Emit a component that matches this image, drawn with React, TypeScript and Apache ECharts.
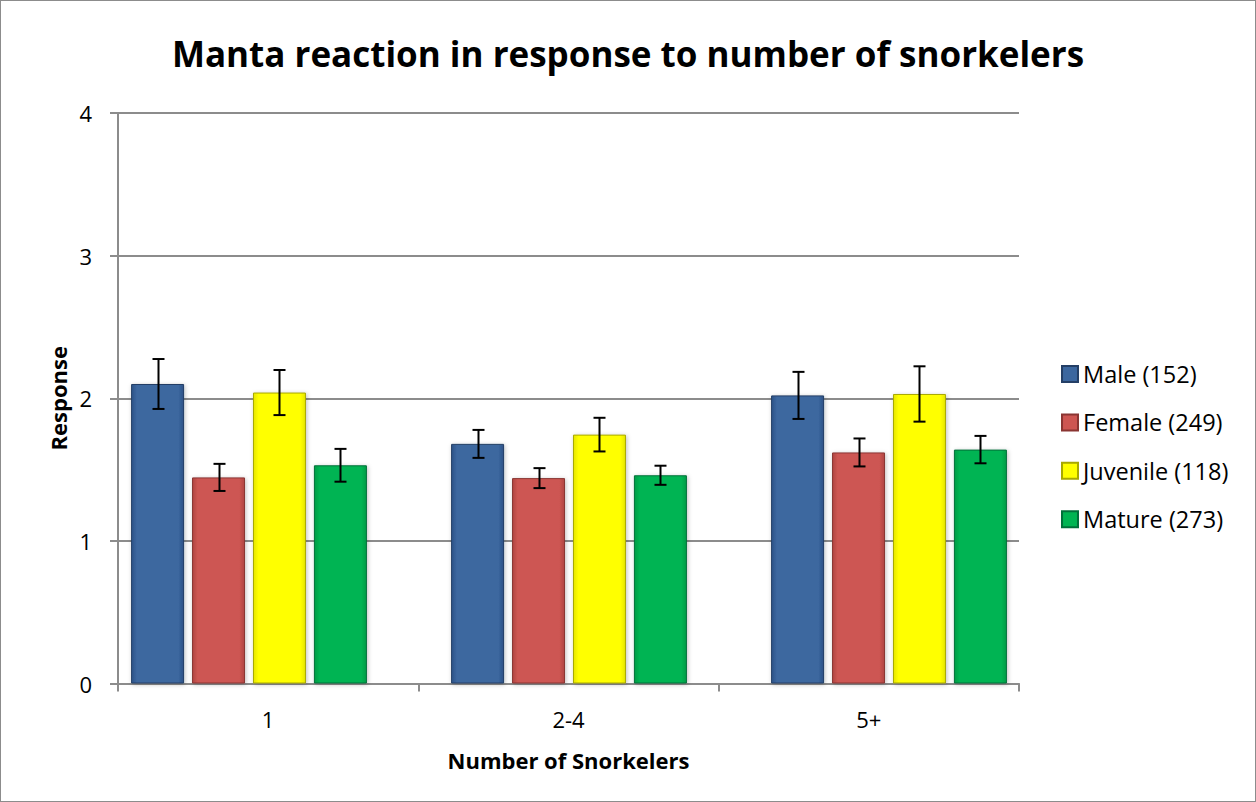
import React, { useEffect, useRef } from "react";
import * as echarts from "echarts";

const categories = ["1", "2-4", "5+"];
const seriesNames = ["Male (152)", "Female (249)", "Juvenile (118)", "Mature (273)"];
const maleValues = [2.1, 1.68, 2.02];
const femaleValues = [1.445, 1.44, 1.62];
const juvenileValues = [2.04, 1.745, 2.03];
const matureValues = [1.53, 1.46, 1.64];
const maleErrors = [0.175, 0.098, 0.165];
const femaleErrors = [0.095, 0.07, 0.098];
const juvenileErrors = [0.158, 0.118, 0.194];
const matureErrors = [0.115, 0.067, 0.096];
const yTicks = [0, 1, 2, 3, 4];

const FONT = "'Open Sans', sans-serif";
const BAR_W = 0.1656;
const BAR_GAP = 0.15;

const palette = [
  { base: "#3c679f", dark: "#2d5287", border: "#243f66" },
  { base: "#cd5652", dark: "#b04642", border: "#8a3532" },
  { base: "#ffff00", dark: "#e6e600", border: "#a8a800" },
  { base: "#00b452", dark: "#009c46", border: "#00703a" },
];

function grad(p: (typeof palette)[number]) {
  return {
    type: "linear",
    x: 0,
    y: 0,
    x2: 1,
    y2: 0,
    colorStops: [
      { offset: 0, color: p.dark },
      { offset: 0.1, color: p.base },
      { offset: 0.9, color: p.base },
      { offset: 1, color: p.dark },
    ],
  };
}

const axisGrey = "#8c8c8c";

export default function App() {
  const ref = useRef<HTMLDivElement>(null);
  useEffect(() => {
    if (!ref.current) return;
    const chart = echarts.init(ref.current, undefined, { renderer: "svg" });
    const values = [maleValues, femaleValues, juvenileValues, matureValues];
    const errors = [maleErrors, femaleErrors, juvenileErrors, matureErrors];
    const errData: number[][] = [];
    values.forEach((vals, s) => {
      vals.forEach((v, c) => {
        errData.push([c, s, v - errors[s][c], v + errors[s][c]]);
      });
    });
    const barSeries = seriesNames.map((name, i) => ({
      name,
      type: "bar",
      xAxisIndex: 1,
      yAxisIndex: 1,
      data: values[i],
      barWidth: BAR_W * 100 + "%",
      barGap: BAR_GAP * 100 + "%",
      itemStyle: {
        color: grad(palette[i]),
        borderColor: palette[i].border,
        borderWidth: 1,
        shadowColor: "rgba(0,0,0,0.25)",
        shadowBlur: 4,
        shadowOffsetX: 1,
        shadowOffsetY: 1,
      },
    }));
    chart.setOption({
      animation: false,
      backgroundColor: "#ffffff",
      title: {
        text: "Manta reaction in response to number of snorkelers",
        left: "center",
        top: 36,
        padding: 0,
        textStyle: { fontFamily: FONT, fontWeight: "bold", fontSize: 35, color: "#000" },
      },
      legend: {
        orient: "vertical",
        left: 1061,
        top: 362,
        padding: 0,
        itemWidth: 16,
        itemHeight: 16,
        itemGap: 24.4,
        itemTextGap: 6,
        icon: "rect",
        data: seriesNames,
        textStyle: { fontFamily: FONT, fontSize: 23.5, color: "#000", lineHeight: 24 },
      },
      grid: [
        { left: 118, right: 237, top: 113, bottom: 118.5, containLabel: false },
        { left: 89, right: 207, top: 113, bottom: 118.5, containLabel: false },
      ],
      xAxis: [
        {
          type: "category",
          gridIndex: 0,
          data: categories,
          name: "Number of Snorkelers",
          nameLocation: "middle",
          nameGap: 65,
          nameTextStyle: { fontFamily: FONT, fontWeight: "bold", fontSize: 22, color: "#000" },
          axisLine: { lineStyle: { color: axisGrey, width: 2 } },
          axisTick: { show: true, length: 8, lineStyle: { color: axisGrey, width: 2 } },
          axisLabel: { margin: 24, fontFamily: FONT, fontSize: 22, color: "#000" },
        },
        {
          type: "category",
          gridIndex: 1,
          data: categories,
          show: false,
        },
      ],
      yAxis: [
        {
          type: "value",
          gridIndex: 0,
          min: yTicks[0],
          max: yTicks[yTicks.length - 1],
          interval: 1,
          name: "Response",
          nameLocation: "middle",
          nameRotate: 90,
          nameGap: 49,
          nameTextStyle: { fontFamily: FONT, fontWeight: "bold", fontSize: 22, color: "#000" },
          axisLine: { show: true, lineStyle: { color: axisGrey, width: 2 } },
          axisTick: { show: true, length: 8, lineStyle: { color: axisGrey, width: 2 } },
          axisLabel: { margin: 26, fontFamily: FONT, fontSize: 22, color: "#000" },
          splitLine: { show: true, lineStyle: { color: axisGrey, width: 2 } },
        },
        {
          type: "value",
          gridIndex: 1,
          min: yTicks[0],
          max: yTicks[yTicks.length - 1],
          interval: 1,
          show: false,
          splitLine: { show: false },
        },
      ],
      series: [
        ...barSeries,
        {
          type: "custom",
          name: "errors",
          xAxisIndex: 1,
          yAxisIndex: 1,
          data: errData,
          encode: { x: 0, y: [2, 3] },
          z: 10,
          silent: true,
          renderItem: (params: any, api: any) => {
            const c = api.value(0);
            const s = api.value(1);
            const lo = api.value(2);
            const hi = api.value(3);
            const band = api.size([1, 0])[0];
            const bw = band * BAR_W;
            const gap = bw * BAR_GAP;
            const offset = (s - 1.5) * (bw + gap);
            const top = api.coord([c, hi]);
            const bot = api.coord([c, lo]);
            const x = Math.round(top[0] + offset) + 0.5;
            const cap = 6;
            const style = { stroke: "#000", lineWidth: 2 };
            return {
              type: "group",
              children: [
                { type: "line", shape: { x1: x, y1: top[1], x2: x, y2: bot[1] }, style },
                { type: "line", shape: { x1: x - cap, y1: top[1], x2: x + cap, y2: top[1] }, style },
                { type: "line", shape: { x1: x - cap, y1: bot[1], x2: x + cap, y2: bot[1] }, style },
              ],
            };
          },
        },
      ],
    });
    return () => chart.dispose();
  }, []);
  return (
    <div style={{ position: "absolute", left: 0, top: 0, width: 1256, height: 802, background: "#fff" }}>
      <div ref={ref} style={{ width: 1256, height: 802 }} />
      <div
        style={{
          position: "absolute",
          left: 0,
          top: 0,
          width: 1256,
          height: 802,
          boxSizing: "border-box",
          border: "1px solid #8c8c8c",
          pointerEvents: "none",
        }}
      />
    </div>
  );
}
